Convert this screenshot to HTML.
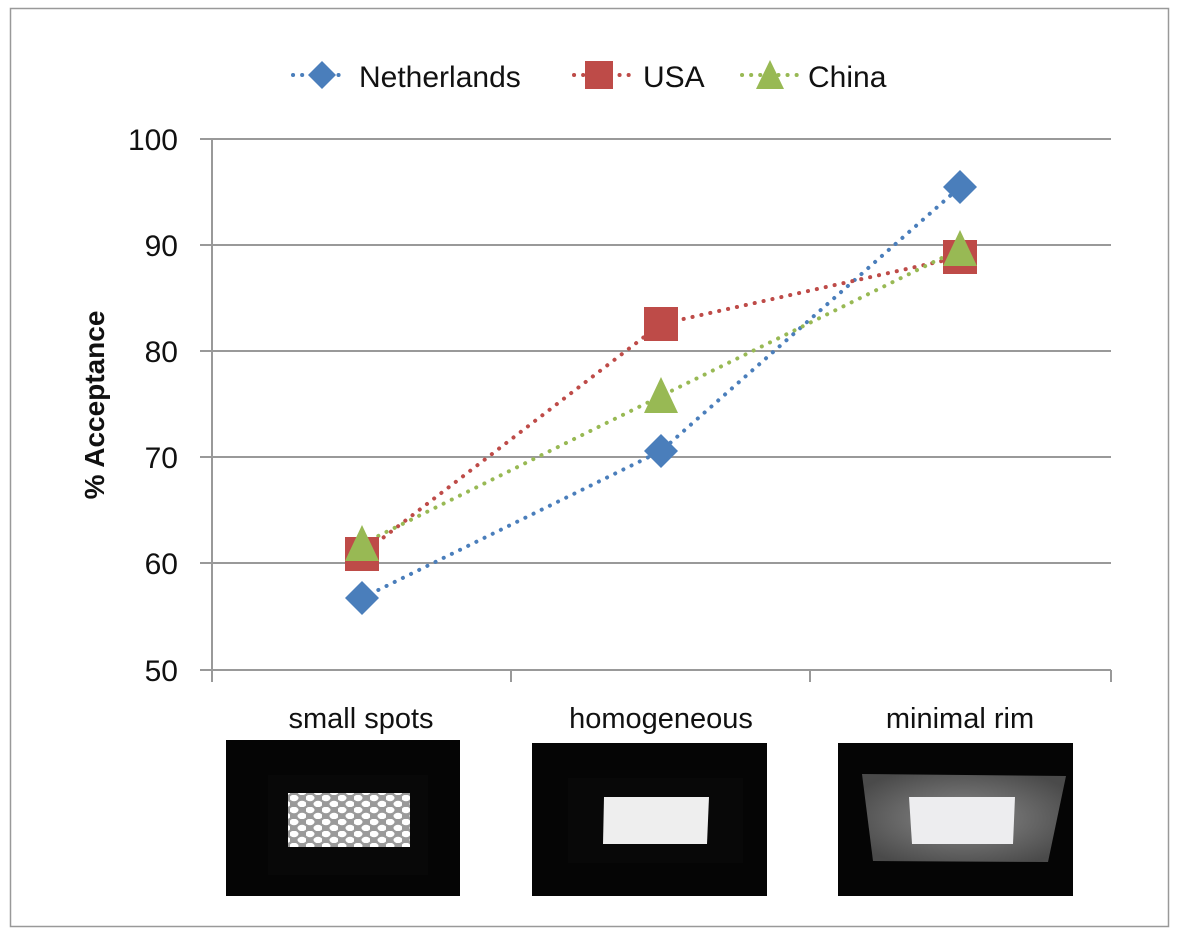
<!DOCTYPE html>
<html><head><meta charset="utf-8"><style>
html,body{margin:0;padding:0;background:#fff;}
svg{display:block;font-family:"Liberation Sans",sans-serif;}
</style></head><body>
<svg width="1184" height="942" viewBox="0 0 1184 942" xmlns="http://www.w3.org/2000/svg">
<defs>
<pattern id="dots" x="290" y="795" width="16" height="12" patternUnits="userSpaceOnUse">
<rect width="16" height="12" fill="#9a9a9a"/>
<ellipse cx="4" cy="3" rx="4.5" ry="3.2" fill="#fff"/>
<ellipse cx="12" cy="9" rx="4.5" ry="3.2" fill="#fff"/>
</pattern>
<radialGradient id="rim" cx="0.5" cy="0.5" r="0.6">
<stop offset="0" stop-color="#8a8a8a"/><stop offset="1" stop-color="#4a4a4a"/>
</radialGradient>
</defs>
<rect x="10.5" y="8.5" width="1158" height="918" fill="#fff" stroke="#999" stroke-width="1.5"/>
<g stroke="#999" stroke-width="2">
<line x1="200" y1="139" x2="1111" y2="139"/>
<line x1="200" y1="245" x2="1111" y2="245"/>
<line x1="200" y1="351" x2="1111" y2="351"/>
<line x1="200" y1="457" x2="1111" y2="457"/>
<line x1="200" y1="563" x2="1111" y2="563"/>
<line x1="200" y1="670" x2="1111" y2="670"/>
<line x1="212" y1="139" x2="212" y2="682"/>
<line x1="511" y1="670" x2="511" y2="682"/>
<line x1="810" y1="670" x2="810" y2="682"/>
<line x1="1111" y1="670" x2="1111" y2="682"/>
</g>
<g font-size="30" fill="#111" text-anchor="end">
<text x="178" y="150">100</text>
<text x="178" y="256">90</text>
<text x="178" y="362">80</text>
<text x="178" y="468">70</text>
<text x="178" y="574">60</text>
<text x="178" y="681">50</text>
</g>
<text transform="translate(104,405) rotate(-90)" font-size="28" font-weight="bold" text-anchor="middle" fill="#111">% Acceptance</text>
<g fill="none" stroke-width="4" stroke-linecap="round" stroke-dasharray="0.1 9">
<polyline points="362,598 661,451 960,187" stroke="#4a7ebb"/>
<polyline points="362,554 661,324 960,257" stroke="#be4b48"/>
<polyline points="362,544 661,396 960,249" stroke="#98b954"/>
</g>
<g fill="#4a7ebb">
<polygon points="362,581 379,598 362,615 345,598"/>
<polygon points="661,434 678,451 661,468 644,451"/>
<polygon points="960,170 977,187 960,204 943,187"/>
</g>
<g fill="#be4b48">
<rect x="345" y="537" width="34" height="34"/>
<rect x="644" y="307" width="34" height="34"/>
<rect x="943" y="240" width="34" height="34"/>
</g>
<g fill="#98b954">
<polygon points="362,525 379,561 345,561"/>
<polygon points="661,377 678,413 644,413"/>
<polygon points="960,230 977,266 943,266"/>
</g>
<g stroke-width="4" stroke-linecap="round" stroke-dasharray="0.1 9" fill="none">
<line x1="293" y1="75" x2="345" y2="75" stroke="#4a7ebb"/>
<line x1="574" y1="75" x2="630" y2="75" stroke="#be4b48"/>
<line x1="742" y1="75" x2="797" y2="75" stroke="#98b954"/>
</g>
<polygon points="322,61 336,75 322,89 308,75" fill="#4a7ebb"/>
<rect x="585" y="61" width="28" height="28" fill="#be4b48"/>
<polygon points="770,60 784,89 756,89" fill="#98b954"/>
<g font-size="30" fill="#111">
<text x="359" y="87">Netherlands</text>
<text x="643" y="87">USA</text>
<text x="808" y="87">China</text>
</g>
<g font-size="29" fill="#111" text-anchor="middle">
<text x="361" y="728">small spots</text>
<text x="661" y="728">homogeneous</text>
<text x="960" y="728">minimal rim</text>
</g>
<rect x="226" y="740" width="234" height="156" fill="#050505"/>
<rect x="268" y="775" width="160" height="100" fill="#080808"/>
<rect x="288" y="793" width="122" height="54" fill="url(#dots)"/>
<rect x="532" y="743" width="235" height="153" fill="#050505"/>
<rect x="568" y="778" width="175" height="85" fill="#080808"/>
<polygon points="604,797 709,797 707,844 603,844" fill="#eeeeee"/>
<rect x="838" y="743" width="235" height="153" fill="#050505"/>
<polygon points="862,774 1066,776 1048,862 873,861" fill="url(#rim)"/>
<polygon points="909,797 1015,797 1013,844 912,844" fill="#ededef"/>
</svg>
</body></html>
